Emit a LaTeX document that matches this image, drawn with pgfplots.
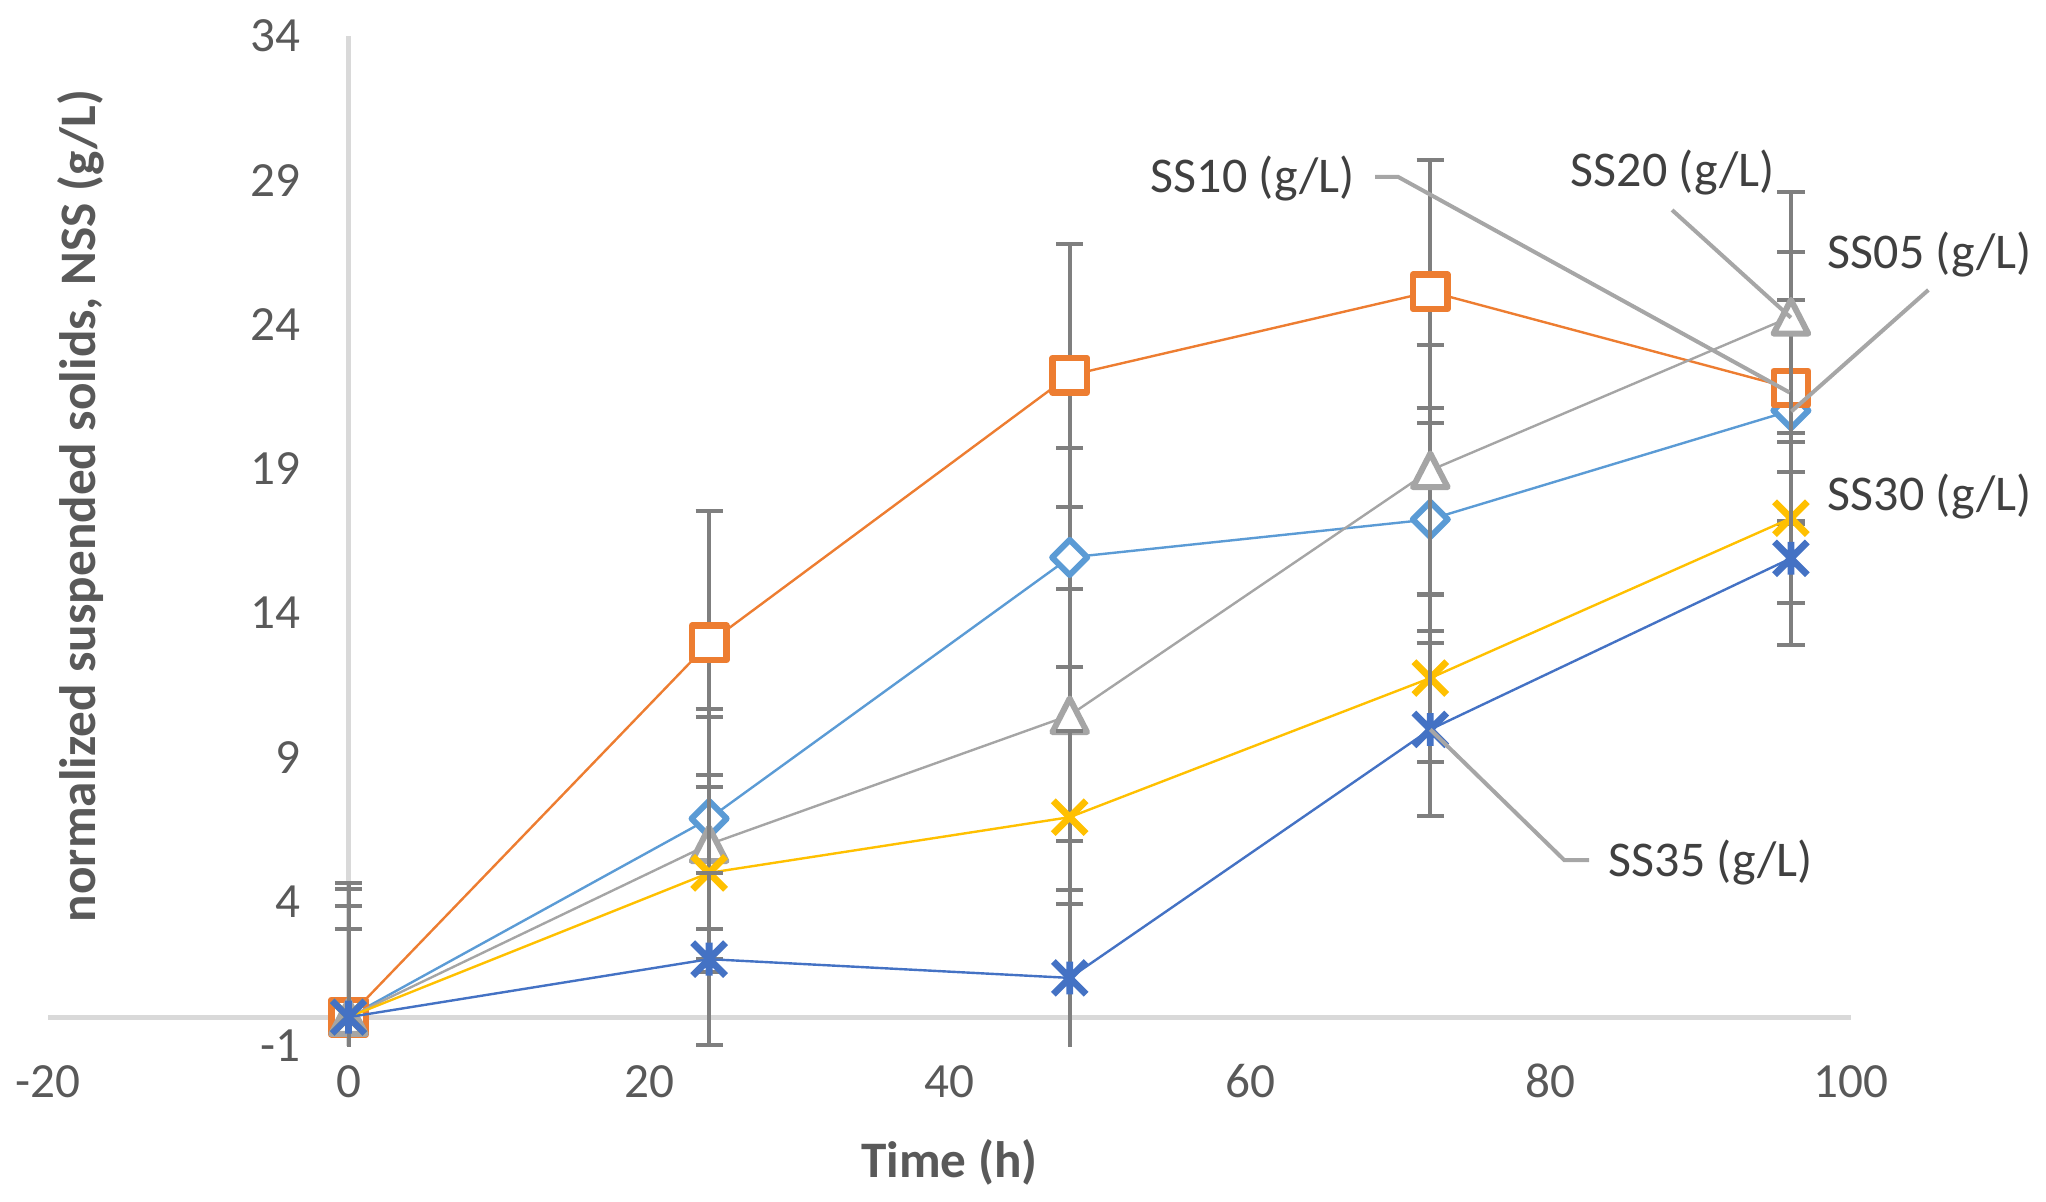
\documentclass[border=0pt]{standalone}
\usepackage{fontspec}
\setmainfont{Carlito}
\usepackage{pgfplots}
\pgfplotsset{compat=1.18}
\definecolor{cD}{HTML}{5B9BD5}
\definecolor{cO}{HTML}{ED7D31}
\definecolor{cT}{HTML}{A5A5A5}
\definecolor{cX}{HTML}{FFC000}
\definecolor{cS}{HTML}{4472C4}
\definecolor{errc}{HTML}{7F7F7F}
\definecolor{leadc}{HTML}{A6A6A6}
\definecolor{axc}{HTML}{D9D9D9}
\definecolor{tickc}{HTML}{595959}
\definecolor{labc}{HTML}{404040}
\pgfdeclareplotmark{xstar}{%
  \pgfpathmoveto{\pgfqpoint{-\pgfplotmarksize}{-\pgfplotmarksize}}%
  \pgfpathlineto{\pgfqpoint{\pgfplotmarksize}{\pgfplotmarksize}}%
  \pgfpathmoveto{\pgfqpoint{-\pgfplotmarksize}{\pgfplotmarksize}}%
  \pgfpathlineto{\pgfqpoint{\pgfplotmarksize}{-\pgfplotmarksize}}%
  \pgfpathmoveto{\pgfqpoint{0pt}{-\pgfplotmarksize}}%
  \pgfpathlineto{\pgfqpoint{0pt}{\pgfplotmarksize}}%
  \pgfusepathqstroke}
\pgfdeclareplotmark{bigx}{%
  \pgfpathmoveto{\pgfqpoint{-\pgfplotmarksize}{-\pgfplotmarksize}}%
  \pgfpathlineto{\pgfqpoint{\pgfplotmarksize}{\pgfplotmarksize}}%
  \pgfpathmoveto{\pgfqpoint{-\pgfplotmarksize}{\pgfplotmarksize}}%
  \pgfpathlineto{\pgfqpoint{\pgfplotmarksize}{-\pgfplotmarksize}}%
  \pgfusepathqstroke}
\newcommand{\tickfont}{\fontsize{12.3}{14}\selectfont}
\newcommand{\labfont}{\fontsize{12.5}{15}\selectfont}
\newcommand{\titfont}{\fontsize{12.8}{15}\selectfont\bfseries}
\begin{document}
\begin{tikzpicture}
\useasboundingbox (0,0) rectangle (511.5pt,300.25pt);
\begin{axis}[
  at={(12pt,38.75pt)}, anchor=south west,
  scale only axis, width=450.75pt, height=252.5pt,
  xmin=-20, xmax=100, ymin=-1, ymax=34,
  axis line style={draw=none},
  xtick={-20,0,20,40,60,80,100},
  ytick={-1,4,9,14,19,24,29,34},
  xticklabels={-20,0,20,40,60,80,100},
  yticklabels={-1,4,9,14,19,24,29,34},
  major tick length=0pt,
  tick style={draw=none},
  xticklabel style={anchor=base, yshift=-12.9pt, inner sep=0pt, font=\tickfont, text=tickc},
  yticklabel style={anchor=east, xshift=63.25pt, inner sep=0pt, font=\tickfont, text=tickc},
  clip mode=individual,
  every axis plot/.append style={line width=0.6pt},
  error bars/y dir=both, error bars/y explicit,
  error bars/error bar style={draw=errc, line width=1pt, solid},
  error bars/error mark options={rotate=90, draw=errc, line width=1pt, mark size=3.4pt, solid},
]
\draw[axc, line width=1.3pt] (axis cs:-20,0) -- (axis cs:100,0);
\draw[axc, line width=1.3pt] (axis cs:0,-1) -- (axis cs:0,34);

% SS05
\addplot[cD, mark=square*, mark size=3.1pt, mark options={rotate=45, fill=white, line width=1.5pt, line join=round}]
  coordinates {(0,0) +- (0,3.85) (24,6.88) +- (0,3.81) (48,15.93) +- (0,3.81) (72,17.25) +- (0,3.86) (96,21.02) +- (0,3.82)};
% SS10
\addplot[cO, mark=square*, mark size=4.3pt, mark options={fill=white, line width=1.6pt, line join=round}]
  coordinates {(0,0) +- (0,4.64) (24,12.97) +- (0,4.58) (48,22.24) +- (0,4.55) (72,25.14) +- (0,4.56) (96,21.8) +- (0,4.7)};
% SS20
\addplot[cT, mark=triangle*, mark size=5pt, mark options={fill=white, line width=1.5pt, line join=round, yshift=-1.4pt, yscale=1.12}]
  coordinates {(0,0) +- (0,4.43) (24,5.99) +- (0,4.42) (48,10.46) +- (0,4.36) (72,18.95) +- (0,4.33) (96,24.27) +- (0,4.33)};
% SS30
\addplot[cX, mark=bigx, mark size=4.1pt, mark options={line width=1.7pt}]
  coordinates {(0,0) +- (0,3.04) (24,5.0) +- (0,2.98) (48,6.93) +- (0,3.0) (72,11.75) +- (0,2.91) (96,17.29) +- (0,2.95)};
% SS35
\addplot[cS, mark=xstar, mark size=4.1pt, mark options={line width=1.7pt}]
  coordinates {(0,0) +- (0,3.04) (24,2.01) +- (0,2.97) (48,1.36) +- (0,3.06) (72,9.97) +- (0,3.0) (96,15.9) +- (0,3.0)};

% leader lines
\draw[leadc, line width=1pt] (axis cs:68.32,29.12) -- (axis cs:69.85,29.12) -- (axis cs:95.9,21.65);
\draw[leadc, line width=1pt] (axis cs:88.09,27.97) -- (axis cs:96,24.24);
\draw[leadc, line width=1pt] (axis cs:105.15,25.2) -- (axis cs:96.03,20.99);
\draw[leadc, line width=1pt] (axis cs:72,9.97) -- (axis cs:80.92,5.44) -- (axis cs:82.57,5.44);

% data labels
\node[anchor=base west, inner sep=0pt, text=labc, font=\labfont] at (axis cs:53.35,28.56) {SS10 (g/L)};
\node[anchor=base west, inner sep=0pt, text=labc, font=\labfont] at (axis cs:81.30,28.77) {SS20 (g/L)};
\node[anchor=base west, inner sep=0pt, text=labc, font=\labfont] at (axis cs:98.40,25.96) {SS05 (g/L)};
\node[anchor=base west, inner sep=0pt, text=labc, font=\labfont] at (axis cs:98.40,17.54) {SS30 (g/L)};
\node[anchor=base west, inner sep=0pt, text=labc, font=\labfont] at (axis cs:83.83,4.88) {SS35 (g/L)};

% axis titles
\node[anchor=base, inner sep=0pt, text=tickc, font=\titfont] at (axis cs:40,-5.57) {Time (h)};
\node[rotate=90, anchor=center, inner sep=0pt, text=tickc, font=\titfont] at (axis cs:-17.8,17.71) {normalized suspended solids, NSS (g/L)};
\end{axis}
\end{tikzpicture}
\end{document}
